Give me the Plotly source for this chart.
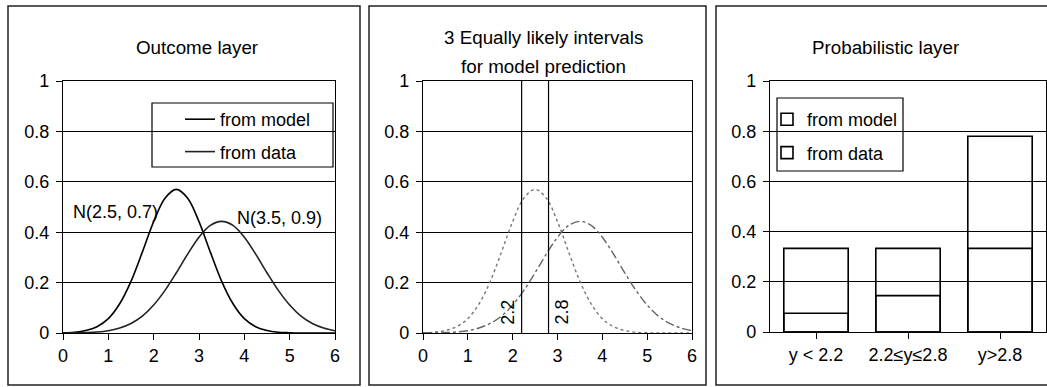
import plotly.graph_objects as go

# ---------------- data ----------------
x_vals = [0, 0.25, 0.5, 0.75, 1.0, 1.25, 1.5, 1.75, 2.0, 2.25, 2.5, 2.75, 3.0,
          3.25, 3.5, 3.75, 4.0, 4.25, 4.5, 4.75, 5.0, 5.25, 5.5, 5.75, 6.0]
model_pdf = [0.001, 0.003, 0.010, 0.025, 0.057, 0.116, 0.205, 0.321, 0.442, 0.535,
             0.570, 0.535, 0.442, 0.321, 0.205, 0.116, 0.057, 0.025, 0.010, 0.003,
             0.001, 0.000, 0.000, 0.000, 0.000]
data_pdf = [0.000, 0.001, 0.002, 0.004, 0.009, 0.020, 0.038, 0.067, 0.111, 0.169,
            0.239, 0.313, 0.380, 0.427, 0.443, 0.427, 0.380, 0.313, 0.239, 0.169,
            0.111, 0.067, 0.038, 0.020, 0.009]
cut_points = [2.2, 2.8]
interval_labels = ["y < 2.2", "2.2\u2264y\u22642.8", "y>2.8"]
model_prob = [0.333, 0.333, 0.333]
data_prob = [0.075, 0.145, 0.78]
x_ticks = [0, 1, 2, 3, 4, 5, 6]
y_ticks = [0, 0.2, 0.4, 0.6, 0.8, 1]

FONT = "Liberation Sans, Arial, sans-serif"
W, H = 1047, 387
FS = 18
TFS = 18.8


def px(x):
    return x / W


def py(y):
    return 1 - y / H


fig = go.Figure()

# Panel 1 : outcome layer
fig.add_trace(go.Scatter(x=x_vals, y=model_pdf, mode="lines", name="from model",
                         line=dict(color="black", width=1.6, shape="spline"),
                         xaxis="x", yaxis="y", legend="legend", legendgroup="m"))
fig.add_trace(go.Scatter(x=x_vals, y=data_pdf, mode="lines", name="from data",
                         line=dict(color="#222", width=1.6, shape="spline"),
                         xaxis="x", yaxis="y", legend="legend", legendgroup="d"))

# Panel 2 : intervals
fig.add_trace(go.Scatter(x=x_vals, y=model_pdf, mode="lines", showlegend=False,
                         line=dict(color="#777", width=1.4, dash="dot", shape="spline"),
                         xaxis="x2", yaxis="y2"))
fig.add_trace(go.Scatter(x=x_vals, y=data_pdf, mode="lines", showlegend=False,
                         line=dict(color="#666", width=1.4, dash="dashdot", shape="spline"),
                         xaxis="x2", yaxis="y2"))
vx, vy = [], []
for c in cut_points:
    vx += [c, c, None]
    vy += [0, 1, None]
fig.add_trace(go.Scatter(x=vx, y=vy, mode="lines", showlegend=False,
                         line=dict(color="black", width=1.2),
                         xaxis="x2", yaxis="y2"))
for c, sh in zip(cut_points, [-14, 14]):
    fig.add_annotation(x=c, y=0.083, xref="x2", yref="y2", text=str(c),
                       textangle=-90, showarrow=False, xshift=sh,
                       xanchor="center", yanchor="middle",
                       font=dict(family=FONT, size=FS, color="black"))

# Panel 3 : probabilistic layer
fig.add_trace(go.Bar(x=interval_labels, y=model_prob, name="from model", width=0.7,
                     marker=dict(color="rgba(255,255,255,0)",
                                 line=dict(color="black", width=1.6)),
                     xaxis="x3", yaxis="y3", legend="legend2", legendgroup="bm"))
fig.add_trace(go.Bar(x=interval_labels, y=data_prob, name="from data", width=0.7,
                     marker=dict(color="rgba(255,255,255,0)",
                                 line=dict(color="black", width=1.6)),
                     xaxis="x3", yaxis="y3", legend="legend2", legendgroup="bd"))

axis_common = dict(showline=True, mirror=True, linecolor="black", linewidth=1.2,
                   ticks="outside", ticklen=6, tickcolor="black", zeroline=False,
                   automargin=False,
                   tickfont=dict(family=FONT, size=FS, color="black"))
yaxis_common = dict(axis_common, range=[0, 1], tickvals=y_ticks, showgrid=True,
                    gridcolor="black", gridwidth=1, ticklabelstandoff=3)

ydom = [py(333), py(81)]
fig.update_layout(
    width=W, height=H, margin=dict(l=0, r=0, t=0, b=0, autoexpand=False),
    paper_bgcolor="white", plot_bgcolor="white", barmode="overlay",
    font=dict(family=FONT, size=FS, color="black"),
    xaxis=dict(axis_common, domain=[px(63), px(335)], range=[0, 6], tickvals=x_ticks,
               showgrid=False, anchor="y"),
    yaxis=dict(yaxis_common, domain=ydom, anchor="x"),
    xaxis2=dict(axis_common, domain=[px(423), px(692)], range=[0, 6], tickvals=x_ticks,
                showgrid=False, anchor="y2"),
    yaxis2=dict(yaxis_common, domain=ydom, anchor="x2"),
    xaxis3=dict(axis_common, domain=[px(770), px(1046)], showgrid=False, anchor="y3"),
    yaxis3=dict(yaxis_common, domain=[py(332), py(81)], anchor="x3"),
    legend=dict(x=px(180), y=py(101), xanchor="left", yanchor="top",
                borderwidth=0, bgcolor="rgba(0,0,0,0)",
                font=dict(family=FONT, size=FS, color="black"),
                tracegroupgap=6),
    legend2=dict(x=px(767), y=py(101), xanchor="left", yanchor="top",
                 borderwidth=0, bgcolor="rgba(0,0,0,0)",
                 font=dict(family=FONT, size=FS, color="black"),
                 tracegroupgap=7),
)

# Legend boxes
for x0, x1, y0, y1 in [(152, 333, 103, 167), (777, 903, 98, 171)]:
    fig.add_shape(type="rect", xref="paper", yref="paper",
                  x0=px(x0), x1=px(x1), y0=py(y1), y1=py(y0),
                  line=dict(color="black", width=1.2), fillcolor="white", layer="below")

# Titles
for text, xc, yc in [("Outcome layer", 197, 47),
                     ("3 Equally likely intervals", 543, 38),
                     ("for model prediction", 543, 67),
                     ("Probabilistic layer", 885, 47)]:
    fig.add_annotation(x=px(xc), y=py(yc), xref="paper", yref="paper", text=text,
                       xanchor="center", yanchor="middle", showarrow=False,
                       font=dict(family=FONT, size=TFS, color="black"))

# Curve labels
fig.add_annotation(x=1.15, y=0.48, xref="x", yref="y", text="N(2.5, 0.7)",
                   xanchor="center", yanchor="middle",
                   showarrow=False, font=dict(family=FONT, size=FS, color="black"))
fig.add_annotation(x=4.78, y=0.456, xref="x", yref="y", text="N(3.5, 0.9)",
                   xanchor="center", yanchor="middle",
                   showarrow=False, font=dict(family=FONT, size=FS, color="black"))

# Panel frames
for x0, x1 in [(8, 360), (369, 706), (716, 1052)]:
    fig.add_shape(type="rect", xref="paper", yref="paper",
                  x0=px(x0), x1=px(x1), y0=py(385), y1=py(6),
                  line=dict(color="#222", width=1.5), layer="below")

fig.write_html("out.html")
